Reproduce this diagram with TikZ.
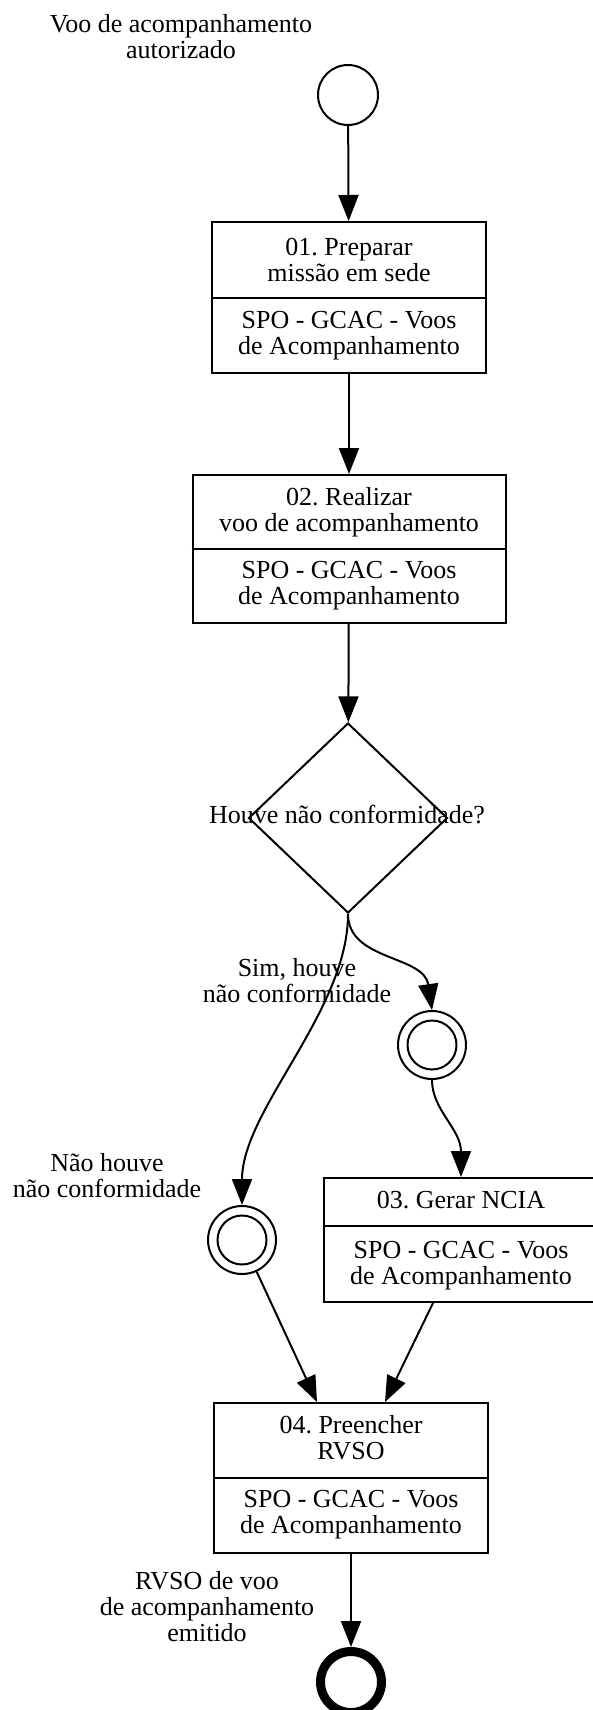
\documentclass[tikz,border=0pt]{standalone}
\usepackage{fontspec}
\setmainfont{Liberation Serif}
\usetikzlibrary{arrows.meta, shapes.geometric, calc}

\begin{document}
\begin{tikzpicture}[x=1pt, y=-1pt, line width=2pt,
	font=\fontsize{26}{26}\selectfont\frenchspacing,
	task/.style={draw, rectangle, inner sep=0pt, minimum width=274pt},
	txt/.style={align=center, inner sep=0pt},
	ev/.style={draw, circle, inner sep=0pt, minimum size=60pt},
	midev/.style={draw, circle, inner sep=0pt, minimum size=68pt},
	flow/.style={-{Triangle[length=26pt, width=20pt]}}]
	\clip (0,0) rectangle (593,1710);

	\node [ev] (S) at (348,95) {};
	\node [txt] (Slab) at (181,37) {Voo de acompanhamento\\autorizado};

	\node [task, minimum height=151pt] (T1) at (349,297.5) {};
	\draw (T1.west) -- (T1.east);
	\node [txt] (T1a) at (349,259.5) {01. Preparar\\missão em sede};
	\node [txt] (T1b) at (349,336) {SPO - GCAC - Voos\\de Acompanhamento};

	\node [task, minimum width=313pt, minimum height=148pt] (T2) at (349,549) {};
	\draw (T2.west) -- (T2.east);
	\node [txt] (T2a) at (349,512) {02. Realizar\\voo de acompanhamento};
	\node [txt] (T2b) at (349,586) {SPO - GCAC - Voos\\de Acompanhamento};

	\node [draw, diamond, inner sep=0pt, minimum width=199pt, minimum height=190pt] (G) at (348,818) {};
	\node [txt] (Glab) at (347,814.5) {Houve não conformidade?};

	\node [midev] (E1) at (432,1045) {};
	\draw (E1.center) circle (24.5pt);
	\node [txt] (E1lab) at (297,981) {Sim, houve\\não conformidade};

	\node [midev] (E2) at (242,1240) {};
	\draw (E2.center) circle (24.5pt);
	\node [txt] (E2lab) at (107,1176) {Não houve\\não conformidade};

	\node [task, minimum height=124pt] (T3) at (461,1240) {};
	\draw ($(T3.west)+(0,-14)$) -- ($(T3.east)+(0,-14)$);
	\node [txt] (T3a) at (461,1200.5) {03. Gerar NCIA};
	\node [txt] (T3b) at (461,1265.5) {SPO - GCAC - Voos\\de Acompanhamento};

	\node [task, minimum height=150pt] (T4) at (351,1478) {};
	\draw (T4.west) -- (T4.east);
	\node [txt] (T4a) at (351,1438) {04. Preencher\\RVSO};
	\node [txt] (T4b) at (351,1515) {SPO - GCAC - Voos\\de Acompanhamento};

	\node [draw, circle, line width=9pt, inner sep=0pt, minimum size=61pt] (F) at (351,1682) {};
	\node [txt] (Flab) at (207,1606.5) {RVSO de voo\\de acompanhamento\\emitido};

	\draw [flow] (S) -- (T1);
	\draw [flow] (T1) -- (T2);
	\draw [flow] (T2) -- (G);
	\draw [flow] (G.south) .. controls +(0,47) and +(-8,-55) .. (E1.north);
	\draw [flow] (G.south) .. controls +(0,97) and +(0,-95) .. (E2.north);
	\draw [flow] (E1.south) .. controls +(0,30) and +(0,-48) .. (T3.north);
	\draw [flow] (E2) -- ($(T4.north)+(-34,0)$);
	\draw [flow] ($(T3.south)+(-28,0)$) -- ($(T4.north)+(34,0)$);
	\draw [flow] (T4) -- (F);
\end{tikzpicture}
\end{document}
